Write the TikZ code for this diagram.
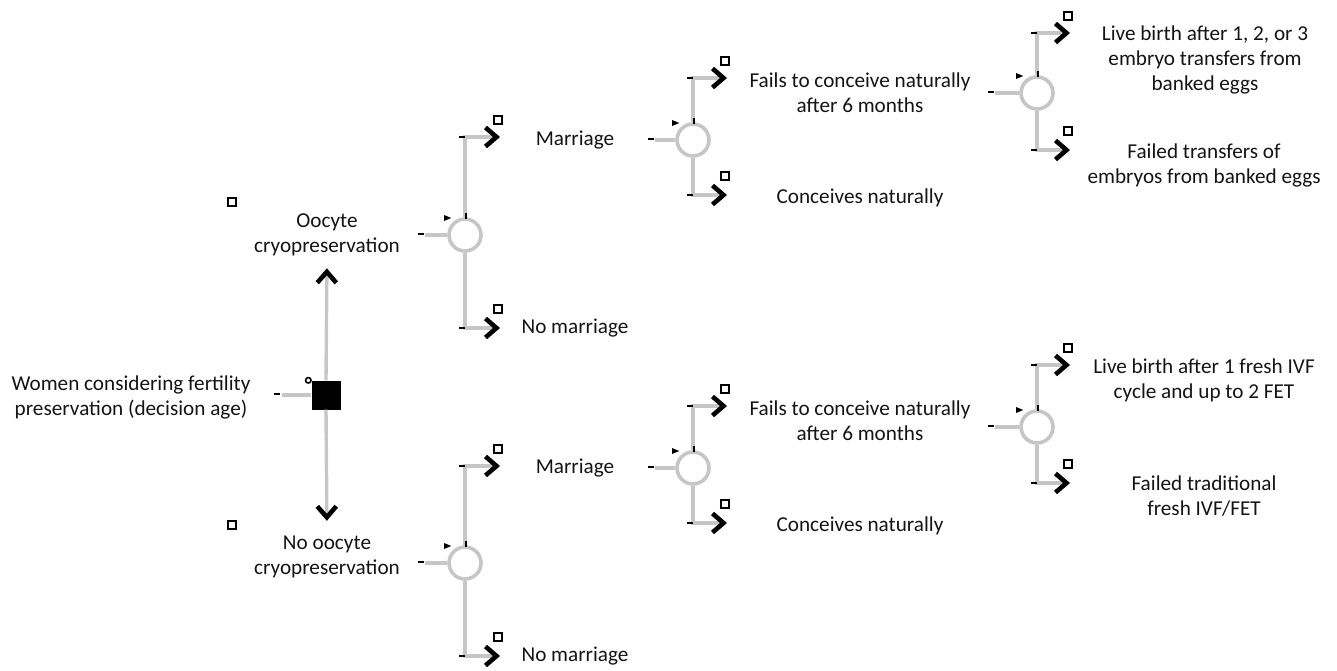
\documentclass[tikz,border=0pt]{standalone}
\usepackage{fontspec}
\setmainfont{Carlito}
\usetikzlibrary{arrows.meta,positioning,calc,shapes.geometric}
\definecolor{branchgray}{RGB}{198,198,198}
\definecolor{labelgray}{RGB}{20,20,20}
\newlength{\DTChanceSize}
\setlength{\DTChanceSize}{32pt}
\tikzset{/dt/decision/.style={
	shape=rectangle, fill=black, minimum size=29pt, inner sep=0
}}
\tikzset{/dt/chance/.style={
	shape=circle, draw=branchgray, line width=3.6pt, fill=white, minimum size=\DTChanceSize, inner sep=0
}}
\tikzset{/dt/label/.style={align=center, inner sep=0, text=labelgray, font=\fontsize{21.2}{25}\selectfont
}}
\tikzset{/dt/stub/.style={draw=branchgray, line width=3.4pt
}}
\tikzset{/dt/branch/.style={draw=branchgray, line width=3.4pt, -{Straight Barb[color=black, length=11pt, width=19pt, line width=4.6pt]}
}}
\tikzset{/dt/sq/.style={shape=rectangle, draw=black, line width=1.8pt, minimum size=7.5pt, inner sep=0}}
\tikzset{/dt/dash/.style={shape=rectangle, fill=black, minimum width=6pt, minimum height=2.6pt, inner sep=0}}
\tikzset{/dt/tick/.style={shape=rectangle, fill=black, minimum width=2.6pt, minimum height=6pt, inner sep=0}}
\tikzset{/dt/tri/.style={shape=isosceles triangle, fill=black, minimum height=6pt, minimum width=6pt, inner sep=0, shape border rotate=-45}}
\tikzset{/dt/ring/.style={shape=circle, draw=black, line width=1.6pt, minimum size=5.5pt, inner sep=0}}

\begin{document}
\begin{tikzpicture}[x=1pt, y=-1pt]
	\useasboundingbox (0,0) rectangle (1337,671);
	% decision
	\path node[/dt/decision] (dec) at (326,395) {};
	\path node[/dt/label] (root) at (131,397) {Women considering fertility\\preservation (decision age)};
	\coordinate (rootin) at (282,395);
	\path[/dt/stub] (rootin) -- (dec.west);
	\path (rootin) ++(-5,-1) node[/dt/dash] (rootdash) {};
	\path (dec.north west) ++(-3,0) node[/dt/ring] (decring) {};
	\path (dec.south) ++(0,2) node[/dt/tick] (dectick) {};
	\path node[/dt/label] (oo) at (327,235) {Oocyte\\cryopreservation};
	\path node[/dt/label] (noo) at (327,557) {No oocyte\\cryopreservation};
	\path[/dt/branch, shorten >=12pt] (dec.north) -- (oo.south);
	\path[/dt/branch, shorten >=15pt] (dec.south) -- (noo.north);
	\path (oo) ++(-95,-33) node[/dt/sq] (oosq) {};
	\path (noo) ++(-95,-32) node[/dt/sq] (noosq) {};
	% chance nodes
	\path node[/dt/chance] (cA1) at (465,235) {};
	\path node[/dt/chance] (cA2) at (693,140) {};
	\path node[/dt/chance] (cA3) at (1037,93) {};
	\path node[/dt/chance] (cB1) at (465,563) {};
	\path node[/dt/chance] (cB2) at (693,468) {};
	\path node[/dt/chance] (cB3) at (1037,427) {};
	\coordinate (cA1in) at (425,235);
	\coordinate (cA2in) at (655,140);
	\coordinate (cA3in) at (995,93);
	\coordinate (cB1in) at (425,563);
	\coordinate (cB2in) at (655,468);
	\coordinate (cB3in) at (995,427);
	% branch tips
	\coordinate (A1up) at (500,137);
	\coordinate (A1dn) at (500,328);
	\coordinate (A2up) at (727,78);
	\coordinate (A2dn) at (727,195);
	\coordinate (A3up) at (1070,33);
	\coordinate (A3dn) at (1070,150);
	\coordinate (B1up) at (500,466);
	\coordinate (B1dn) at (500,656);
	\coordinate (B2up) at (727,406);
	\coordinate (B2dn) at (727,523);
	\coordinate (B3up) at (1070,365);
	\coordinate (B3dn) at (1070,483);
	\foreach \c/\u/\d in {cA1/A1up/A1dn, cA2/A2up/A2dn, cA3/A3up/A3dn, cB1/B1up/B1dn, cB2/B2up/B2dn, cB3/B3up/B3dn} {
		\path[/dt/stub] (\c in) -- (\c);
		\path[/dt/branch] (\c.north) |- (\u);
		\path[/dt/branch] (\c.south) |- (\d);
		\path (\c in) ++(-4,-1) node[/dt/dash] (\c-dash) {};
		\path (\c) ++(-19,-17) node[/dt/tri] (\c-tri) {};
		\path (\c) ++(1,-19) node[/dt/tick] (\c-tick) {};
		\path (\c |- \u) ++(-3,0) node[/dt/dash] (\u-dash) {};
		\path (\c |- \d) ++(-3,0) node[/dt/dash] (\d-dash) {};
		\path (\u) ++(-2,-17) node[/dt/sq] (\u-sq) {};
		\path (\d) ++(-2,-19) node[/dt/sq] (\d-sq) {};
	}
	% outcomes
	\path (A1up) ++(75,3) node[/dt/label] (marA) {Marriage};
	\path (A1dn) ++(75,0) node[/dt/label] (nmarA) {No marriage};
	\path (B1up) ++(75,2) node[/dt/label] (marB) {Marriage};
	\path (B1dn) ++(75,0) node[/dt/label] (nmarB) {No marriage};
	\path (A2up) ++(133,15) node[/dt/label] (failA) {Fails to conceive naturally\\after 6 months};
	\path (A2dn) ++(133,3) node[/dt/label] (concA) {Conceives naturally};
	\path (B2up) ++(133,15) node[/dt/label] (failB) {Fails to conceive naturally\\after 6 months};
	\path (B2dn) ++(133,3) node[/dt/label] (concB) {Conceives naturally};
	\path (A3up) ++(135,27) node[/dt/label] (liveA) {Live birth after 1, 2, or 3\\embryo transfers from\\banked eggs};
	\path (A3dn) ++(134,15) node[/dt/label] (failtA) {Failed transfers of\\embryos from banked eggs};
	\path (B3up) ++(134,15) node[/dt/label] (liveB) {Live birth after 1 fresh IVF\\cycle and up to 2 FET};
	\path (B3dn) ++(134,13) node[/dt/label] (failtB) {Failed traditional\\fresh IVF/FET};
\end{tikzpicture}
\end{document}
